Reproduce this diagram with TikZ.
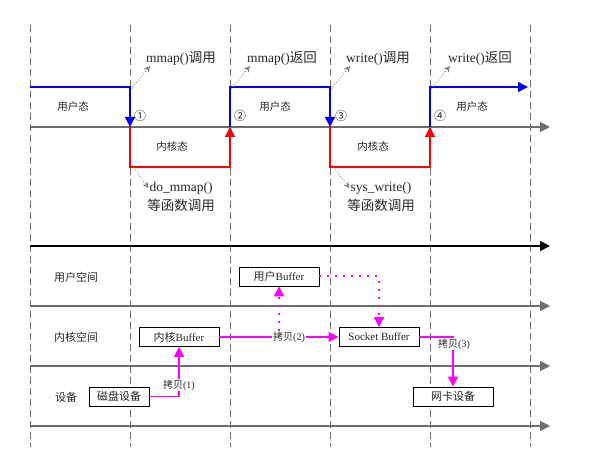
\documentclass[tikz,border=0pt]{standalone}
\usepackage{fontspec}
\setmainfont{Liberation Serif}
\newfontfamily\cjk{Noto Sans CJK SC}
\usetikzlibrary{arrows.meta}
\definecolor{axisgray}{RGB}{110,110,110}
\definecolor{txt}{RGB}{40,40,40}
\definecolor{pmag}{RGB}{255,0,255}
\begin{document}
\begin{tikzpicture}[x=1pt,y=-1pt,
  vline/.style={draw=axisgray, dash pattern=on 7pt off 4pt, line width=0.8pt},
  tipA/.style={-{Triangle[length=10pt,width=10pt]}},
  axisline/.style={draw=axisgray, line width=1.6pt, tipA},
  blackline/.style={draw=black, line width=1.6pt, tipA},
  userline/.style={draw=blue, line width=1.5pt},
  kernline/.style={draw=red, line width=1.5pt},
  hint/.style={draw=black!55, dotted, line width=0.8pt, -{Stealth[open,length=6pt,width=6pt]}},
  bigtxt/.style={text=txt, inner sep=1pt, font=\fontsize{13.5}{15}\selectfont},
  smalltxt/.style={text=txt, inner sep=1pt, font=\cjk\fontsize{10.5}{12}\selectfont},
  areatxt/.style={text=txt, inner sep=1pt, font=\cjk\fontsize{11}{12}\selectfont},
  numtxt/.style={text=txt, inner sep=0pt, font=\cjk\fontsize{12}{13}\selectfont},
  bufbox/.style={draw=black, line width=0.8pt, fill=white, text=txt, minimum width=80pt, minimum height=19pt, inner sep=0pt, font=\fontsize{11}{13}\selectfont},
  copyline/.style={draw=pmag, line width=1.4pt},
  copydot/.style={draw=pmag, line width=2pt, dash pattern=on 2pt off 6pt},
  copytip/.style={-{Triangle[length=10pt,width=10pt,fill=pmag]}},
  copytxt/.style={fill=white, text=txt, inner sep=1pt, font=\fontsize{10}{12}\selectfont}
]
\useasboundingbox (0,0) rectangle (590,473);

% vertical dashed time lines
\foreach \x in {30,130,230,330,430,530}
  \draw[vline] (\x,25) -- (\x,447);

% axes
\coordinate (a1s) at (30,127);  \coordinate (a1e) at (550,127);
\coordinate (a2s) at (30,246);  \coordinate (a2e) at (550,246);
\coordinate (a3s) at (30,306);  \coordinate (a3e) at (550,306);
\coordinate (a4s) at (30,366);  \coordinate (a4e) at (550,366);
\coordinate (a5s) at (30,426);  \coordinate (a5e) at (550,426);
\draw[axisline] (a1s) -- (a1e);
\draw[blackline] (a2s) -- (a2e);
\draw[axisline] (a3s) -- (a3e);
\draw[axisline] (a4s) -- (a4e);
\draw[axisline] (a5s) -- (a5e);

% state switching lines
\coordinate (u0) at (30,87);
\coordinate (c1) at (130,87);  \coordinate (p1) at (130,127); \coordinate (k1) at (130,167);
\coordinate (c2) at (230,87);  \coordinate (p2) at (230,127); \coordinate (k2) at (230,167);
\coordinate (c3) at (330,87);  \coordinate (p3) at (330,127); \coordinate (k3) at (330,167);
\coordinate (c4) at (430,87);  \coordinate (p4) at (430,127); \coordinate (k4) at (430,167);
\coordinate (uend) at (528,87);

\draw[userline,tipA] (u0) -- (c1) -- (p1);
\draw[userline,tipA] (p2) -- (c2) -- (c3) -- (p3);
\draw[userline,tipA] (p4) -- (c4) -- (uend);
\draw[kernline,tipA] (p1) -- (k1) -- (k2) -- (p2);
\draw[kernline,tipA] (p3) -- (k3) -- (k4) -- (p4);

% state labels
\node[smalltxt] (us1) at (73,107) {用户态};
\node[smalltxt] (us2) at (275,107) {用户态};
\node[smalltxt] (us3) at (472,107) {用户态};
\node[smalltxt] (ks1) at (172,147) {内核态};
\node[smalltxt] (ks2) at (373,147) {内核态};
\node[numtxt] (n1) at (140,116) {①};
\node[numtxt] (n2) at (240,116) {②};
\node[numtxt] (n3) at (341,116) {③};
\node[numtxt] (n4) at (440,116) {④};

% call labels
\node[bigtxt] (m1) at (181,58) {mmap(){\cjk 调用}};
\node[bigtxt] (m2) at (282,58) {mmap(){\cjk 返回}};
\node[bigtxt] (w1) at (378,58) {write(){\cjk 调用}};
\node[bigtxt] (w2) at (480,58) {write(){\cjk 返回}};
\node[bigtxt] (d1) at (181,188) {do\_mmap()};
\node[bigtxt] (d2) at (181,205) {\cjk 等函数调用};
\node[bigtxt] (s1) at (381,188) {sys\_write()};
\node[bigtxt] (s2) at (381,205) {\cjk 等函数调用};

\coordinate (h1) at (150,66); \coordinate (h2) at (250,66);
\coordinate (h3) at (350,66); \coordinate (h4) at (450,66);
\draw[hint] ([xshift=1pt,yshift=-2pt]c1) -- (h1);
\draw[hint] ([xshift=1pt,yshift=-2pt]c2) -- (h2);
\draw[hint] ([xshift=1pt,yshift=-2pt]c3) -- (h3);
\draw[hint] ([xshift=1pt,yshift=-2pt]c4) -- (h4);
\draw[hint] ([xshift=2pt,yshift=2pt]k1) -- (d1.west);
\draw[hint] ([xshift=2pt,yshift=2pt]k3) -- (s1.west);

% area labels
\node[areatxt] (ua) at (76,277) {用户空间};
\node[areatxt] (ka) at (76,337) {内核空间};
\node[areatxt] (da) at (66,397) {设备};

% buffers
\node[bufbox] (ubuf) at (279,276.5) {{\cjk 用户}Buffer};
\node[bufbox] (kbuf) at (179,337) {{\cjk 内核}Buffer};
\node[bufbox] (sbuf) at (379,337) {Socket Buffer};
\node[bufbox, minimum width=60pt, font=\cjk\fontsize{11}{13}\selectfont] (disk) at (119,396.5) {磁盘设备};
\node[bufbox, font=\cjk\fontsize{11}{13}\selectfont] (nic) at (453,396.5) {网卡设备};

% copies
\draw[copyline, copytip] (disk.east) -| (kbuf.south);
\node[copytxt] (l1) at (179,385) {{\cjk 拷贝}(1)};
\draw[copyline, copytip] (kbuf.east) -- (sbuf.west);
\node[copytxt] (l2) at (289,337) {{\cjk 拷贝}(2)};
\draw[copydot, copytip] (ubuf.south |- l2.north) -- (ubuf.south);
\draw[copydot, copytip] (ubuf.east) -| (sbuf.north);
\draw[copyline, copytip] (sbuf.east) -| (nic.north);
\node[copytxt] (l3) at (454,344) {{\cjk 拷贝}(3)};
\end{tikzpicture}
\end{document}
